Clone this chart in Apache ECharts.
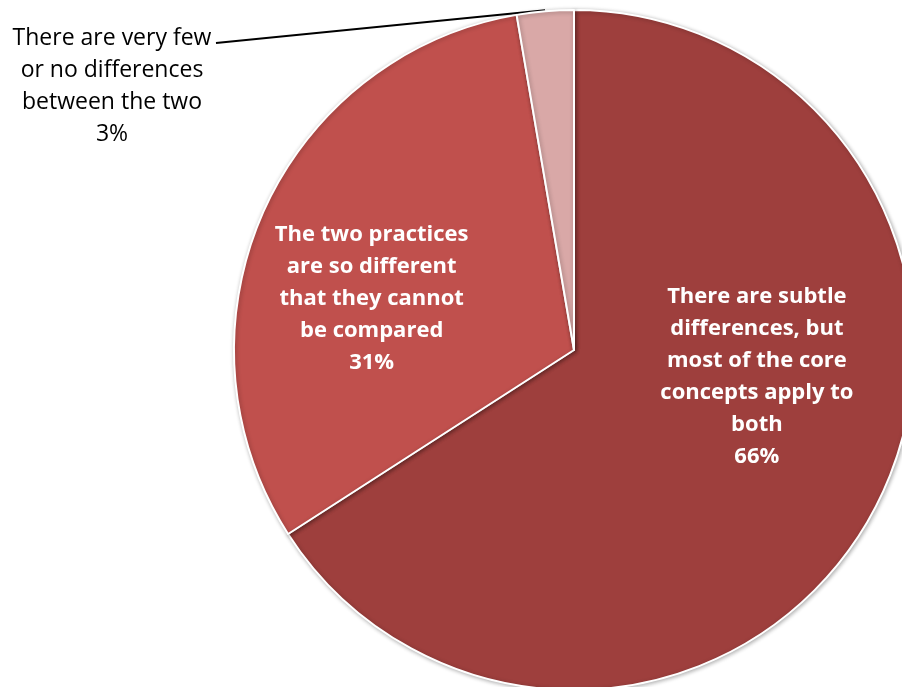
<!DOCTYPE html>
<html>
<head>
<meta charset="utf-8">
<script src="https://cdn.jsdelivr.net/npm/echarts@6/dist/echarts.min.js"></script>
<style>
  html, body { margin: 0; padding: 0; background: #fff; }
  #main { width: 902px; height: 687px; }
</style>
</head>
<body>
<div id="main"></div>
<script>
// answers and their share (percent)
var categories = [
  'There are subtle\ndifferences, but\nmost of the core\nconcepts apply to\nboth',
  'The two practices\nare so different\nthat they cannot\nbe compared',
  'There are very few\nor no differences\nbetween the two'
];
var values = [65.9, 31.4, 2.7];
var colors = ['#9E3F3D', '#C0504D', '#D9A8A7'];

var chart = echarts.init(document.getElementById('main'), null, { renderer: 'canvas' });

var font = 'Open Sans';
var cx = 574, cy = 350, R = 340;

var data = categories.map(function (c, i) {
  return { name: c, value: values[i], itemStyle: { color: colors[i] } };
});
// small slice gets an outside label with a leader line
data[2].label = {
  position: 'outside',
  color: '#000',
  fontWeight: 'normal',
  fontSize: 23
};
data[2].labelLine = { show: true, lineStyle: { color: '#000', width: 2 } };

// point just outside the rim at the middle of a slice
function rimPoint(idx, r) {
  var total = values.reduce(function (a, b) { return a + b; }, 0);
  var before = 0;
  for (var i = 0; i < idx; i++) before += values[i];
  var mid = (before + values[idx] / 2) / total * Math.PI * 2;
  return [cx + r * Math.sin(mid), cy - r * Math.cos(mid)];
}

var option = {
  backgroundColor: '#fff',
  animation: false,
  series: [
    {
      type: 'pie',
      center: [cx, cy],
      radius: R,
      startAngle: 90,
      clockwise: true,
      data: data,
      itemStyle: {
        borderColor: '#fff',
        borderWidth: 2,
        shadowBlur: 4,
        shadowOffsetX: 1,
        shadowOffsetY: 1,
        shadowColor: 'rgba(0,0,0,0.3)'
      },
      label: {
        show: true,
        position: 'inside',
        color: '#fff',
        fontFamily: font,
        fontWeight: 'bold',
        fontSize: 22,
        lineHeight: 32,
        align: 'center',
        formatter: function (p) {
          return p.name + '\n' + Math.round(p.value) + '%';
        }
      },
      labelLine: { show: false },
      labelLayout: function (p) {
        if (p.dataIndex === 0) return { dx: 31, dy: -56 };
        if (p.dataIndex === 1) return { dx: -44, dy: 18 };
        // outside label: move to the upper left corner
        return {
          x: 112, y: 86,
          align: 'center',
          verticalAlign: 'middle',
          labelLinePoints: [rimPoint(2, R + 1), [216, 43], [216, 43]]
        };
      }
    }
  ]
};

chart.setOption(option);
</script>
</body>
</html>
